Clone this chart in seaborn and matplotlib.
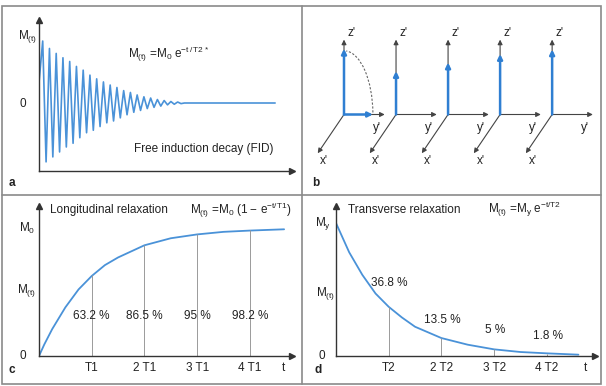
import numpy as np
import matplotlib
matplotlib.use('Agg')
import matplotlib.pyplot as plt
from matplotlib.patches import Arc, Rectangle
from matplotlib.lines import Line2D
import seaborn as sns

# --- values ---

# a: FID, signed extrema (first peak = 1), one per half period, then flat
fid_start = 0.33
fid_extrema = [1.00, -0.95, 0.88, -0.87, 0.80, -0.79, 0.73, -0.71, 0.67, -0.65,
               0.59, -0.56, 0.53, -0.48, 0.45, -0.44, 0.39, -0.38, 0.34, -0.32,
               0.29, -0.29, 0.25, -0.24, 0.20, -0.19, 0.17, -0.15, 0.13, -0.12,
               0.10, -0.09, 0.08, -0.07, 0.056, -0.05, 0.04, -0.03, 0.024, -0.02,
               0.016, -0.01]
fid_end = 35.0

# b: blue vector along z' in each frame (M0 = 1), and along y' in the first one
mz_frames = [1.0, 0.66, 0.79, 0.92, 0.99]
my_first = 0.44

# c: longitudinal relaxation
t1_t = [0, 0.1, 0.25, 0.5, 0.75, 1.0, 1.25, 1.5, 2.0, 2.5, 3.0, 3.5, 4.0, 4.65]
t1_m = [0, 0.09, 0.21, 0.38, 0.52, 0.625, 0.71, 0.77, 0.865, 0.92, 0.95, 0.97, 0.98, 0.99]
t1_marks = [1, 2, 3, 4]
t1_pct = [63.2, 86.5, 95, 98.2]
t1_ticks = ['T1', '2 T1', '3 T1', '4 T1']

# d: transverse relaxation
t2_t = [0, 0.25, 0.5, 0.75, 1.0, 1.25, 1.5, 2.0, 2.5, 3.0, 3.5, 4.0, 4.6]
t2_m = [1.0, 0.78, 0.61, 0.47, 0.37, 0.29, 0.22, 0.135, 0.085, 0.05, 0.03, 0.02, 0.01]
t2_marks = [1, 2, 3, 4]
t2_pct = [36.8, 13.5, 5, 1.8]
t2_ticks = ['T2', '2 T2', '3 T2', '4 T2']
t2_label_y = [0.55, 0.27, 0.195, 0.15]

# --- style ---
sns.set_style('white')
plt.rcParams['font.family'] = ['Liberation Sans Narrow', 'Liberation Sans', 'DejaVu Sans']
plt.rcParams['mathtext.default'] = 'regular'
plt.rcParams['text.color'] = '#222222'

BLUE = '#4a92d8'
VBLUE = '#2f7fd2'
AXC = '#333333'
GRID = '#9a9a9a'
FS = 8.5
W, H = 606, 386

fig = plt.figure(figsize=(W / 100, H / 100), dpi=100)
fig.patch.set_facecolor('white')


def px_axes(l, t, r, b):
    return fig.add_axes([l / W, 1 - b / H, (r - l) / W, (b - t) / H])


def ftext(x, y, s, **kw):
    kw.setdefault('va', 'center')
    kw.setdefault('fontsize', FS)
    fig.text(x / W, 1 - y / H, s, **kw)


def arrow_axes(ax):
    sns.despine(ax=ax)
    for side in ['left', 'bottom']:
        ax.spines[side].set_color(AXC)
        ax.spines[side].set_linewidth(1.0)
    ax.set_xticks([])
    ax.set_yticks([])
    ax.set_facecolor('none')
    ax.plot(1, 0, marker='>', ms=5, color=AXC, transform=ax.transAxes, clip_on=False)
    ax.plot(0, 1, marker='^', ms=5, color=AXC, transform=ax.transAxes, clip_on=False)


# --- a: free induction decay ---
ax_a = px_axes(39, 20, 292, 171)
fid_x = [0] + list(0.55 + 0.5 * np.arange(len(fid_extrema) + 1)) + [fid_end]
fid_y = [fid_start] + fid_extrema + [0, 0]
sns.lineplot(x=fid_x, y=fid_y, ax=ax_a, color=BLUE, lw=1.2, sort=False)
ax_a.set_xlim(0, 37.5)
ax_a.set_ylim(-1.097, 1.339)
arrow_axes(ax_a)
ftext(28, 37, 'M$_{(t)}$', ha='center')
ftext(23, 104, '0', ha='center')
ftext(128, 54, 'M$_{(t)}$ =M$_0$ e$^{-t\\,/\\,T2*}$', ha='left')
ftext(134, 149, 'Free induction decay (FID)', ha='left')
ftext(12, 183, 'a', ha='center', fontweight='bold')

# --- b: dephasing vectors ---
ax_b = px_axes(303, 6, 600, 195)
ax_b.set_xlim(-41 / 65.7, 256 / 65.7)
ax_b.set_ylim(-80.5 / 65.7, 108.5 / 65.7)
ax_b.axis('off')
frame_x = np.arange(len(mz_frames)) * 0.792
for i, (x0, mz) in enumerate(zip(frame_x, mz_frames)):
    gray = dict(arrowstyle='-|>', color='#444444', lw=0.8, mutation_scale=7,
                shrinkA=0, shrinkB=0)
    ax_b.annotate('', xy=(x0, 1.14), xytext=(x0, 0), arrowprops=gray)
    ax_b.annotate('', xy=(x0 + 0.62, 0), xytext=(x0, 0), arrowprops=gray)
    ax_b.annotate('', xy=(x0 - 0.40, -0.59), xytext=(x0, 0), arrowprops=gray)
    blue = dict(arrowstyle='-|>', color=VBLUE, lw=1.8, mutation_scale=7,
                shrinkA=0, shrinkB=0)
    ax_b.annotate('', xy=(x0, mz), xytext=(x0, 0), arrowprops=blue)
    if i == 0:
        ax_b.annotate('', xy=(x0 + my_first, 0), xytext=(x0, 0), arrowprops=blue)
        ax_b.add_patch(Arc((x0, 0), 2 * my_first, 2 * 0.97, theta1=4, theta2=88,
                           ls=(0, (2, 1.5)), color='#666666', lw=0.8))
    ax_b.text(x0 + 0.05, 1.24, "z'", fontsize=FS, ha='left', va='center')
    ax_b.text(x0 + 0.50, -0.20, "y'", fontsize=FS, ha='center', va='center')
    ax_b.text(x0 - 0.30, -0.71, "x'", fontsize=FS, ha='center', va='center')
ftext(316, 183, 'b', ha='center', fontweight='bold')

# --- c: longitudinal relaxation ---
ax_c = px_axes(39, 206, 292, 356)
sns.lineplot(x=t1_t, y=t1_m, ax=ax_c, color=BLUE, lw=1.3)
ax_c.vlines(t1_marks, 0, np.array(t1_pct) / 100, color=GRID, lw=0.7)
ax_c.set_xlim(0, 4.80)
ax_c.set_ylim(0, 1.172)
arrow_axes(ax_c)
for m, p, lab in zip(t1_marks, t1_pct, t1_ticks):
    ax_c.text(m, 0.31, f'{p:g} %', fontsize=FS, ha='center', va='center')
    ax_c.text(m, -0.094, lab, fontsize=FS, ha='center', va='center')
ax_c.text(4.63, -0.094, 't', fontsize=FS, ha='center', va='center')
ax_c.text(-0.23, 1.0, 'M$_0$', fontsize=FS, ha='center', va='center')
ax_c.text(-0.23, 0.51, 'M$_{(t)}$', fontsize=FS, ha='center', va='center')
ax_c.text(-0.30, 0.0, '0', fontsize=FS, ha='center', va='center')
ax_c.text(0.21, 1.14, 'Longitudinal relaxation', fontsize=FS, ha='left', va='center')
ax_c.text(2.87, 1.14, 'M$_{(t)}$ =M$_0$ (1 \u2212 e$^{-t/T1}$)', fontsize=FS,
          ha='left', va='center')
ftext(12, 370, 'c', ha='center', fontweight='bold')

# --- d: transverse relaxation ---
ax_d = px_axes(336, 206, 595, 356)
sns.lineplot(x=t2_t, y=t2_m, ax=ax_d, color=BLUE, lw=1.3)
ax_d.vlines(t2_marks, 0, np.array(t2_pct) / 100, color=GRID, lw=0.7)
ax_d.set_xlim(0, 4.915)
ax_d.set_ylim(0, 1.128)
arrow_axes(ax_d)
for m, p, lab, ly in zip(t2_marks, t2_pct, t2_ticks, t2_label_y):
    ax_d.text(m + 0.02, ly, f'{p:g} %', fontsize=FS, ha='center', va='center')
    ax_d.text(m, -0.09, lab, fontsize=FS, ha='center', va='center')
ax_d.text(4.74, -0.09, 't', fontsize=FS, ha='center', va='center')
ax_d.text(-0.25, 1.0, 'M$_y$', fontsize=FS, ha='center', va='center')
ax_d.text(-0.20, 0.47, 'M$_{(t)}$', fontsize=FS, ha='center', va='center')
ax_d.text(-0.27, 0.0, '0', fontsize=FS, ha='center', va='center')
ax_d.text(0.23, 1.10, 'Transverse relaxation', fontsize=FS, ha='left', va='center')
ax_d.text(2.88, 1.10, 'M$_{(t)}$ =M$_y$ e$^{-t/T2}$', fontsize=FS, ha='left', va='center')
ftext(318, 370, 'd', ha='center', fontweight='bold')

# --- panel frame ---
fig.add_artist(Rectangle((2 / W, 1 - 384 / H), 599 / W, 378 / H, fill=False,
                         ec='#8a8a8a', lw=1.2, transform=fig.transFigure))
fig.add_artist(Line2D([302 / W, 302 / W], [1 - 384 / H, 1 - 6 / H],
                      color='#8a8a8a', lw=1.2, transform=fig.transFigure))
fig.add_artist(Line2D([2 / W, 601 / W], [1 - 195 / H, 1 - 195 / H],
                      color='#8a8a8a', lw=1.2, transform=fig.transFigure))

fig.savefig('out.png', dpi=100)
